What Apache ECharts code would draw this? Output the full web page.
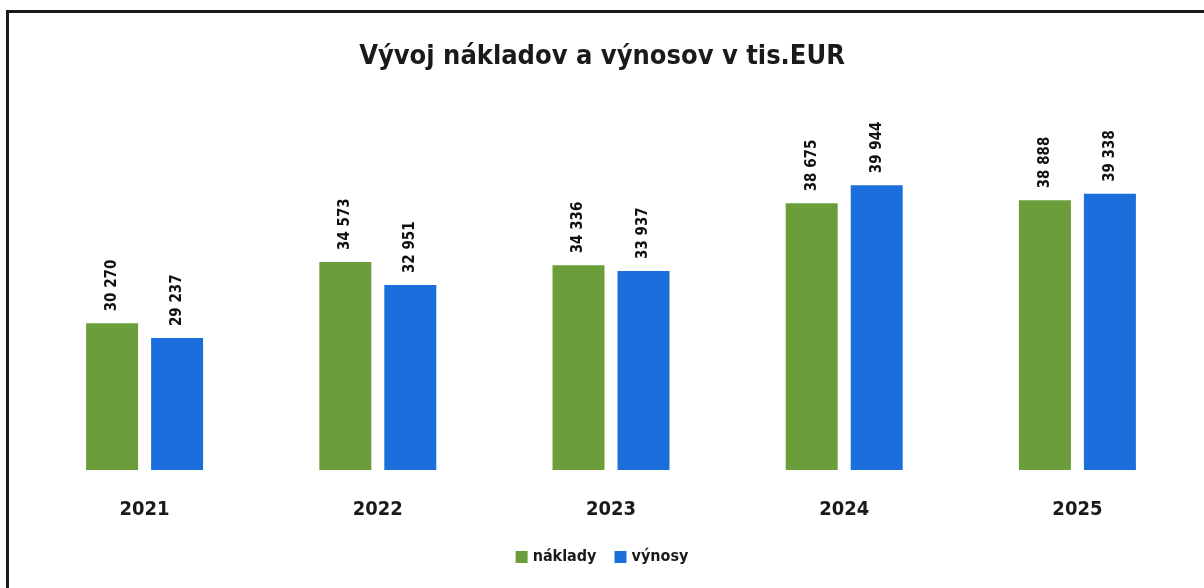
<!DOCTYPE html>
<html>
<head>
<meta charset="utf-8">
<script src="https://cdn.jsdelivr.net/npm/echarts@6/dist/echarts.min.js"></script>
<style>
  html, body { margin: 0; padding: 0; background: #fff; overflow: hidden; }
  #frame { position: absolute; left: 6px; top: 10px; width: 1210px; height: 600px; border: 3px solid #1a1a1a; box-sizing: border-box; }
  #chart { position: absolute; left: 0; top: 0; width: 1204px; height: 588px; }
</style>
</head>
<body>
<div id="frame"></div>
<div id="chart"></div>
<script>
const years = ['2021', '2022', '2023', '2024', '2025']
const naklady = [30270, 34573, 34336, 38675, 38888]
const vynosy = [29237, 32951, 33937, 39944, 39338]

// čísla s medzerou ako oddeľovačom tisícok
const fmt = (v) => String(v).replace(/\B(?=(\d{3})+(?!\d))/g, ' ')

const font = '"DejaVu Sans Condensed", "DejaVu Sans", sans-serif'

const chart = echarts.init(document.getElementById('chart'))

const labelStyle = {
  show: true,
  position: 'top',
  rotate: 90,
  align: 'left',
  verticalAlign: 'middle',
  distance: 12,
  fontFamily: font,
  fontWeight: 'bold',
  fontSize: 15,
  color: '#111',
  formatter: (p) => fmt(p.value),
}

chart.setOption({
  animation: false,
  title: {
    text: 'Vývoj nákladov a výnosov v tis.EUR',
    left: 'center',
    top: 38,
    textStyle: { fontFamily: font, fontWeight: 'bold', fontSize: 27, color: '#1a1a1a' },
  },
  legend: {
    bottom: 18,
    left: 'center',
    itemWidth: 12,
    itemHeight: 12,
    itemGap: 18,
    icon: 'rect',
    textStyle: { fontFamily: font, fontWeight: 'bold', fontSize: 16, color: '#1a1a1a' },
    data: ['náklady', 'výnosy'],
  },
  grid: { left: 28, right: 10, top: 113, bottom: 118 },
  xAxis: {
    type: 'category',
    data: years,
    axisLine: { show: false },
    axisTick: { show: false },
    axisLabel: { margin: 30, fontFamily: font, fontWeight: 'bold', fontSize: 20, color: '#1a1a1a' },
  },
  yAxis: {
    type: 'value',
    min: 20000,
    max: 45000,
    show: false,
    splitLine: { show: false },
  },
  series: [
    {
      name: 'náklady',
      type: 'bar',
      data: naklady,
      barWidth: 52,
      barGap: '25%',
      itemStyle: { color: '#6b9e3a' },
      label: labelStyle,
    },
    {
      name: 'výnosy',
      type: 'bar',
      data: vynosy,
      barWidth: 52,
      itemStyle: { color: '#1a6fdc' },
      label: labelStyle,
    },
  ],
})
</script>
</body>
</html>
